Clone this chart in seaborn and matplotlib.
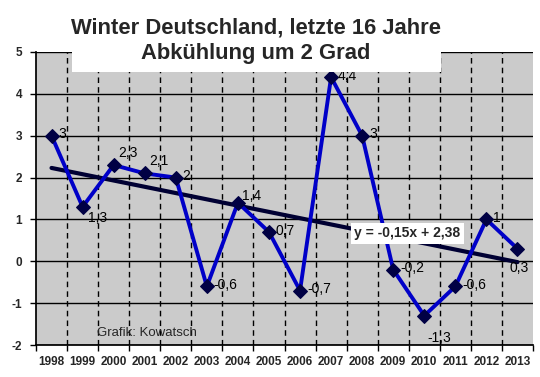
import matplotlib
matplotlib.use("Agg")
import matplotlib.pyplot as plt
import seaborn as sns
import pandas as pd
import numpy as np

years = ["1998", "1999", "2000", "2001", "2002", "2003", "2004", "2005",
         "2006", "2007", "2008", "2009", "2010", "2011", "2012", "2013"]
values = [3, 1.3, 2.3, 2.1, 2, -0.6, 1.4, 0.7, -0.7, 4.4, 3, -0.2, -1.3, -0.6, 1, 0.3]
labels = ["3", "1,3", "2,3", "2,1", "2", "-0,6", "1,4", "0,7", "-0,7", "4,4", "3",
          "-0,2", "-1,3", "-0,6", "1", "0,3"]
trend_slope = -0.15
trend_intercept = 2.38
title_lines = ["Winter Deutschland, letzte 16 Jahre", "Abkühlung um 2 Grad"]
equation_text = "y = -0,15x + 2,38"
credit_text = "Grafik: Kowatsch"

sns.set_theme(style="white")
plt.rcParams["font.family"] = ["Liberation Sans", "DejaVu Sans"]

pos = np.arange(len(years))
df = pd.DataFrame({"pos": pos, "value": values})
df["trend"] = trend_slope * (df["pos"] + 1) + trend_intercept

fig = plt.figure(figsize=(5.4, 3.77), dpi=100)
ax = fig.add_axes([36 / 540, 1 - 345 / 377, 497 / 540, 293 / 377])
ax.set_facecolor("#cbcbcb")

# grid
for yv in range(-2, 6):
    ax.axhline(yv, color="black", lw=1.0, zorder=1)
for b in np.arange(0.5, len(years) - 0.5, 1):
    ax.axvline(b, color="black", lw=1.0, ls=(0, (4, 3)), zorder=1)

sns.lineplot(data=df, x="pos", y="trend", ax=ax, color="#000033", lw=3.0, zorder=3)
sns.lineplot(data=df, x="pos", y="value", ax=ax, color="#0000c8", lw=2.8,
             marker="D", markersize=7.5, markerfacecolor="#000044",
             markeredgecolor="#000044", zorder=4)

# data labels
below = {"1999": (4, -8), "2010": (2, -16), "2013": (-6, -14)}
above = {"2000": (3, 9), "2001": (3, 9), "2004": (3, 5)}
for i, (yr, v, lab) in enumerate(zip(years, values, labels)):
    dx, dy = below.get(yr, above.get(yr, (5, 1)))
    ax.annotate(lab, (i, v), xytext=(dx, dy), textcoords="offset points",
                fontsize=10, color="black", va="center", ha="left", zorder=5)

ax.text(11.45, 0.67, equation_text, fontsize=10, fontweight="bold", ha="center",
        va="center", zorder=6,
        bbox=dict(facecolor="white", edgecolor="none", pad=2.5))
ax.text(1.45, -1.72, credit_text, fontsize=9.5, ha="left", va="center", zorder=5)

ax.set_xlim(-0.5, len(years) - 0.5)
ax.set_ylim(-2, 5)
ax.set_xticks(pos)
ax.set_xticklabels(years, fontsize=8.5, fontweight="bold")
ax.set_xticks(np.arange(-0.5, len(years), 1), minor=True)
ax.set_yticks(range(-2, 6))
ax.set_yticklabels([str(t) for t in range(-2, 6)], fontsize=8.5, fontweight="bold")
ax.tick_params(axis="x", which="major", length=0, pad=8)
ax.tick_params(axis="x", which="minor", length=4, width=1, color="black", direction="out",
               bottom=True)
ax.tick_params(axis="y", length=4, width=1, color="black", direction="out", left=True, pad=6)
ax.set_xlabel("")
ax.set_ylabel("")
for s in ax.spines.values():
    s.set_visible(False)
ax.spines["left"].set_visible(True)
ax.spines["left"].set_color("black")
ax.spines["bottom"].set_visible(True)
ax.spines["bottom"].set_color("black")

# title box
fig.patches.append(plt.Rectangle((72 / 540, 1 - 72 / 377), 369 / 540, 72 / 377,
                                 transform=fig.transFigure, facecolor="white",
                                 edgecolor="none", zorder=10))
fig.text(256 / 540, 1 - 28 / 377, title_lines[0], fontsize=15.8, fontweight="bold",
         ha="center", va="center", zorder=11)
fig.text(256 / 540, 1 - 54 / 377, title_lines[1], fontsize=15.8, fontweight="bold",
         ha="center", va="center", zorder=11)

fig.savefig("out.png", dpi=100)
